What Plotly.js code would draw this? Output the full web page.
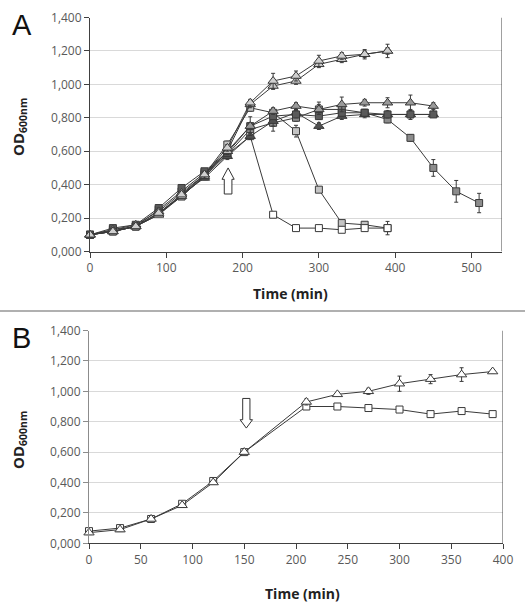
<!DOCTYPE html>
<html><head><meta charset="utf-8">
<script src="https://cdn.plot.ly/plotly-3.0.1.min.js"></script>
<style>html,body{margin:0;padding:0;background:#fff}#chart{width:525px;height:615px}</style>
</head><body><div id="chart"></div>
<script>
// ---------- Panel A data ----------
const timeA = [0,30,60,90,120,150,180,210,240,270,300,330,360,390,420,450,480,510];
const triLightA1 = [0.10,0.12,0.15,0.23,0.34,0.46,0.62,0.89,1.02,1.05,1.14,1.17,1.18,1.20];
const triLightA1Err = [0.01,0.01,0.01,0.01,0.01,0.02,0.02,0.02,0.046,0.03,0.034,0.02,0.028,0.04];
const triLightA2 = [0.10,0.12,0.15,0.22,0.33,0.45,0.60,0.88,0.99,1.02,1.12,1.15,1.18,1.20];
const triLightA2Err = [0.01,0.01,0.01,0.01,0.01,0.01,0.02,0.02,0.02,0.02,0.02,0.02,0.02,0.02];
const triMidA = [0.10,0.13,0.16,0.24,0.35,0.46,0.60,0.75,0.84,0.87,0.85,0.88,0.89,0.89,0.89,0.87];
const triMidAErr = [0.01,0.01,0.01,0.02,0.01,0.01,0.02,0.02,0.02,0.02,0.03,0.044,0.02,0.03,0.046,0.02];
const triDarkA = [0.10,0.12,0.15,0.22,0.34,0.44,0.57,0.69,0.78,0.83,0.75,0.81,0.82,0.82,0.82,0.82];
const triDarkAErr = [0.01,0.01,0.01,0.01,0.01,0.01,0.02,0.02,0.03,0.02,0.02,0.02,0.02,0.02,0.02,0.01];
const sqDarkA = [0.10,0.14,0.16,0.26,0.38,0.48,0.59,0.75,0.81,0.82,0.81,0.83,0.83,0.82,0.82,0.82];
const sqDarkAErr = [0.01,0.01,0.01,0.01,0.01,0.01,0.02,0.056,0.02,0.02,0.02,0.02,0.02,0.02,0.03,0.01];
const sqMidA = [0.10,0.13,0.15,0.25,0.36,0.47,0.58,0.73,0.77,0.80,0.85,0.85,0.83,0.79,0.68,0.50,0.36,0.29];
const sqMidAErr = [0.01,0.01,0.01,0.01,0.01,0.01,0.02,0.02,0.05,0.02,0.044,0.02,0.02,0.02,0.02,0.05,0.065,0.058];
const sqLightA = [0.10,0.12,0.15,0.23,0.33,0.46,0.64,0.86,0.83,0.72,0.37,0.17,0.16,0.14];
const sqLightAErr = [0.01,0.01,0.01,0.01,0.01,0.01,0.02,0.02,0.02,0.035,0.01,0.01,0.01,0.04];
const sqOpenA = [0.10,0.12,0.15,0.23,0.33,0.45,0.58,0.69,0.22,0.14,0.14,0.13,0.14,0.14];
const sqOpenAErr = [0.01,0.01,0.01,0.01,0.01,0.01,0.01,0.01,0.01,0.01,0.01,0.01,0.01,0.01];

// ---------- Panel B data ----------
const timeB = [0,30,60,90,120,150,210,240,270,300,330,360,390];
const triOpenB = [0.07,0.09,0.16,0.25,0.40,0.60,0.93,0.98,1.00,1.05,1.08,1.11,1.13];
const triOpenBErr = [0.01,0.01,0.01,0.01,0.01,0.01,0.02,0.01,0.02,0.05,0.03,0.045,0.01];
const sqOpenB = [0.08,0.10,0.16,0.26,0.41,0.60,0.90,0.90,0.89,0.88,0.85,0.87,0.85];

const tickValsY = [0,0.2,0.4,0.6,0.8,1.0,1.2,1.4];
const tickTextY = ['0,000','0,200','0,400','0,600','0,800','1,000','1,200','1,400'];
const tickValsXA = [0,100,200,300,400,500];
const tickValsXB = [0,50,100,150,200,250,300,350,400];

const lineCol = '#3a3a3a';
function tr(xs, ys, errs, symbol, fill, size, xa, ya) {
  const t = {
    x: xs.slice(0, ys.length), y: ys, type: 'scatter', mode: 'lines+markers',
    xaxis: xa, yaxis: ya, cliponaxis: false, showlegend: false,
    line: {color: lineCol, width: 1},
    marker: {symbol: symbol, size: size, color: fill, line: {color: lineCol, width: 1}}
  };
  if (errs) t.error_y = {type: 'data', array: errs, visible: true, color: lineCol, thickness: 1, width: 2};
  return t;
}

const data = [
  tr(timeA, sqMidA, sqMidAErr, 'square', '#8c8c8c', 7, 'x', 'y'),
  tr(timeA, sqLightA, sqLightAErr, 'square', '#c4c4c4', 7, 'x', 'y'),
  tr(timeA, sqOpenA, sqOpenAErr, 'square', '#ffffff', 7, 'x', 'y'),
  tr(timeA, triDarkA, triDarkAErr, 'triangle-up', '#505050', 9, 'x', 'y'),
  tr(timeA, sqDarkA, sqDarkAErr, 'square', '#5a5a5a', 7, 'x', 'y'),
  tr(timeA, triMidA, triMidAErr, 'triangle-up', '#9a9a9a', 9, 'x', 'y'),
  tr(timeA, triLightA2, triLightA2Err, 'triangle-up', '#c8c8c8', 9, 'x', 'y'),
  tr(timeA, triLightA1, triLightA1Err, 'triangle-up', '#d0d0d0', 9, 'x', 'y'),
  tr(timeB, sqOpenB, null, 'square', '#ffffff', 7, 'x2', 'y2'),
  tr(timeB, triOpenB, triOpenBErr, 'triangle-up', '#ffffff', 9, 'x2', 'y2')
];

const tickFont = {family: 'Open Sans, sans-serif', size: 12, color: '#595959'};
function xax(domain, range, vals, anchor) {
  return {domain: domain, range: range, anchor: anchor, tickvals: vals, ticktext: vals.map(String),
    showgrid: false, zeroline: false, showline: true, linecolor: '#404040', linewidth: 1,
    ticks: 'outside', ticklen: 5, tickcolor: '#404040', tickfont: tickFont};
}
function yax(domain, anchor, lc) {
  return {domain: domain, range: [0, 1.4], anchor: anchor, tickvals: tickValsY, ticktext: tickTextY,
    showgrid: true, gridcolor: '#d9d9d9', gridwidth: 1, zeroline: false, showline: true,
    linecolor: lc, linewidth: 1, ticks: 'outside', ticklen: 5, tickcolor: lc, tickfont: tickFont};
}

const titleFont = {family: 'Open Sans, sans-serif', size: 14, color: '#222'};
const layout = {
  width: 525, height: 615, margin: {l: 0, r: 0, t: 0, b: 0},
  paper_bgcolor: '#fff', plot_bgcolor: 'rgba(0,0,0,0)',
  xaxis: xax([90/525, 502/525], [0, 540], tickValsXA, 'y'),
  yaxis: yax([1 - 251.5/615, 1 - 17.5/615], 'x', '#404040'),
  xaxis2: xax([89/525, 503/525], [0, 400], tickValsXB, 'y2'),
  yaxis2: yax([1 - 543.3/615, 1 - 330.5/615], 'x2', '#8c8c8c'),
  shapes: [
    {type: 'line', xref: 'paper', yref: 'paper', x0: 0, x1: 1, y0: 1 - 311/615, y1: 1 - 311/615,
     line: {color: '#b0b0b0', width: 2}},
    {type: 'line', xref: 'x', yref: 'y', x0: 540, x1: 540, y0: 0, y1: 1.4,
     line: {color: '#404040', width: 1}},
    {type: 'line', xref: 'x2', yref: 'y2', x0: 400, x1: 400, y0: 0, y1: 1.4,
     line: {color: '#404040', width: 1}},
    // up arrow in A at t~181
    {type: 'path', xref: 'x', yref: 'y', layer: 'above',
     path: 'M 181 0.50 L 173 0.432 L 176 0.432 L 176 0.344 L 186 0.344 L 186 0.432 L 189 0.432 Z',
     fillcolor: '#ffffff', line: {color: '#333', width: 1}},
    // down arrow in B at t~152
    {type: 'path', xref: 'x2', yref: 'y2', layer: 'above',
     path: 'M 152 0.758 L 146 0.813 L 148.5 0.813 L 148.5 0.953 L 155.5 0.953 L 155.5 0.813 L 158 0.813 Z',
     fillcolor: '#ffffff', line: {color: '#333', width: 1}}
  ],
  annotations: [
    {text: 'A', xref: 'paper', yref: 'paper', x: 22/525, y: 1 - 25/615, showarrow: false,
     xanchor: 'center', yanchor: 'middle', font: {family: 'Liberation Sans, Arial, sans-serif', size: 29, color: '#111'}},
    {text: 'B', xref: 'paper', yref: 'paper', x: 21/525, y: 1 - 338/615, showarrow: false,
     xanchor: 'center', yanchor: 'middle', font: {family: 'Liberation Sans, Arial, sans-serif', size: 29, color: '#111'}},
    {text: '<b>OD<sub>600nm</sub></b>', xref: 'paper', yref: 'paper', x: 19/525, y: 1 - 127/615,
     textangle: -90, showarrow: false, xanchor: 'center', yanchor: 'middle', font: {family: 'Open Sans, sans-serif', size: 15, color: '#222'}},
    {text: '<b>OD<sub>600nm</sub></b>', xref: 'paper', yref: 'paper', x: 19/525, y: 1 - 440/615,
     textangle: -90, showarrow: false, xanchor: 'center', yanchor: 'middle', font: {family: 'Open Sans, sans-serif', size: 15, color: '#222'}},
    {text: '<b>Time (min)</b>', xref: 'paper', yref: 'paper', x: 290/525, y: 1 - 293/615,
     showarrow: false, xanchor: 'center', yanchor: 'middle', font: titleFont},
    {text: '<b>Time (min)</b>', xref: 'paper', yref: 'paper', x: 302/525, y: 1 - 593/615,
     showarrow: false, xanchor: 'center', yanchor: 'middle', font: titleFont}
  ]
};

Plotly.newPlot('chart', data, layout, {displayModeBar: false, staticPlot: true});
</script>
</body></html>
